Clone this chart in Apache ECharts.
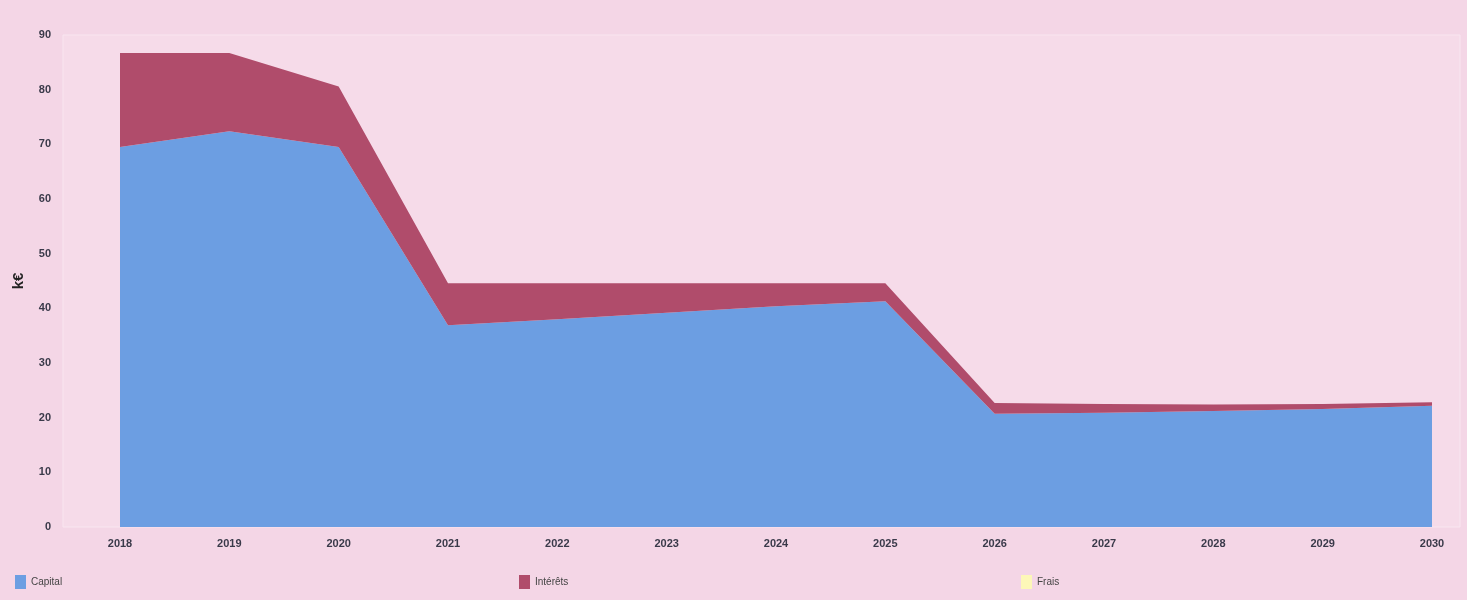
<!DOCTYPE html>
<html><head><meta charset="utf-8">
<script src="https://cdn.jsdelivr.net/npm/echarts@6/dist/echarts.min.js"></script>
<style>html,body{margin:0;padding:0;background:#f4d6e6;}#c{width:1467px;height:600px;}</style>
</head><body><div id="c"></div>
<script>
const years = ['2018','2019','2020','2021','2022','2023','2024','2025','2026','2027','2028','2029','2030'];
const capital = [69.5,72.4,69.5,36.9,38.0,39.2,40.4,41.3,20.7,20.9,21.2,21.6,22.2];
const interets = [17.2,14.3,11.1,7.7,6.6,5.4,4.2,3.3,2.0,1.6,1.2,0.9,0.6];
const frais = [0,0,0,0,0,0,0,0,0,0,0,0,0];
const yMax = 90, yStep = 10;

const chart = echarts.init(document.getElementById('c'));
const ff = 'Liberation Sans, Arial';
const lbl = {color:'#3a3a4a',fontSize:11,fontWeight:'bold',fontFamily:ff};
const leg = (name,left)=>({data:[name],left:left,top:570,icon:'rect',itemWidth:11,itemHeight:14,
  textStyle:{fontSize:10,color:'#444',fontFamily:ff}});
chart.setOption({
  backgroundColor:'#f4d6e6',
  animation:false,
  grid:[
    {left:63,right:7,top:35,bottom:73,show:true,borderColor:'#f9e6f0',borderWidth:1,backgroundColor:'#f6dbe9'},
    {left:120,right:35,top:35,bottom:73}
  ],
  legend:[leg('Capital',10),leg('Intérêts',514),leg('Frais',1016)],
  xAxis:[
    {gridIndex:0,type:'value',min:0,max:1,show:false},
    {gridIndex:1,type:'category',data:years,boundaryGap:false,
      axisLine:{show:false},axisTick:{show:false},splitLine:{show:false},
      axisLabel:Object.assign({},lbl,{margin:11,interval:0})}
  ],
  yAxis:[
    {gridIndex:0,type:'value',min:0,max:yMax,interval:yStep,name:'k€',nameLocation:'middle',nameGap:37,nameRotate:90,
      nameTextStyle:{fontSize:15,fontWeight:'bold',color:'#222',fontFamily:ff},
      axisLine:{show:false},axisTick:{show:false},splitLine:{show:false},
      axisLabel:Object.assign({},lbl,{margin:12})},
    {gridIndex:1,type:'value',min:0,max:yMax,interval:yStep,show:false,splitLine:{show:false}}
  ],
  series:[
    {name:'Capital',type:'line',xAxisIndex:1,yAxisIndex:1,stack:'t',data:capital,symbol:'none',lineStyle:{width:0},areaStyle:{opacity:1,color:'#6c9ee2'},itemStyle:{color:'#6c9ee2'}},
    {name:'Intérêts',type:'line',xAxisIndex:1,yAxisIndex:1,stack:'t',data:interets,symbol:'none',lineStyle:{width:0},areaStyle:{opacity:1,color:'#b04c6b'},itemStyle:{color:'#b04c6b'}},
    {name:'Frais',type:'line',xAxisIndex:1,yAxisIndex:1,stack:'t',data:frais,symbol:'none',lineStyle:{width:0},areaStyle:{opacity:1,color:'#fdf7b8'},itemStyle:{color:'#fdf7b8'}}
  ]
});
</script></body></html>
